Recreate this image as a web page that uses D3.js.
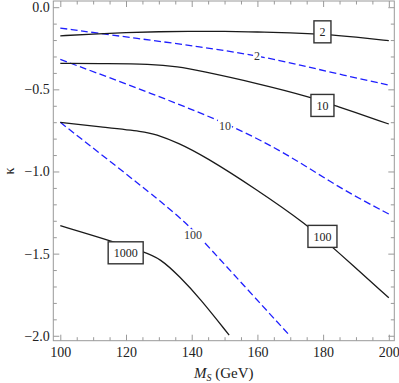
<!DOCTYPE html>
<html>
<head>
<meta charset="utf-8">
<script src="https://cdn.jsdelivr.net/npm/d3@7"></script>
<style>
  body { margin: 0; background: #fff; }
  svg { display: block; }
  svg text { font-family: "Liberation Serif", "Times New Roman", "DejaVu Serif", serif; }
</style>
</head>
<body>
<div id="chart"></div>
<script>
// tick labels
const xTicks = [100, 120, 140, 160, 180, 200];
const yTicks = [0, -0.5, -1, -1.5, -2];

// solid contours
const solid2 = [[100,-0.174],[110,-0.163],[120,-0.155],[130,-0.149],[140,-0.146],[150,-0.147],[160,-0.151],[170,-0.155],[180,-0.164],[190,-0.182],[200,-0.204]];
const solid10 = [[100,-0.342],[115,-0.343],[127,-0.346],[136,-0.362],[142.5,-0.387],[160,-0.463],[176.5,-0.549],[183,-0.595],[200,-0.711]];
const solid100 = [[100,-0.701],[112,-0.728],[125.8,-0.758],[128.8,-0.772],[135.9,-0.825],[144.1,-0.910],[159.3,-1.103],[175.3,-1.326],[183.6,-1.474],[200,-1.769]];
const solid1000 = [[100,-1.330],[114.6,-1.417],[125.3,-1.489],[130.4,-1.529],[136.4,-1.641],[142.5,-1.772],[151.4,-1.996]];

// dashed contours
const dashed2 = [[100,-0.127],[121,-0.184],[142.5,-0.240],[160,-0.295],[173,-0.352],[186,-0.413],[200,-0.474]];
const dashed10 = [[100,-0.318],[120,-0.466],[142.5,-0.640],[159.3,-0.788],[173,-0.944],[186.1,-1.113],[200,-1.259]];
const dashed100 = [[100,-0.701],[126.3,-1.113],[133.4,-1.230],[139.5,-1.336],[145,-1.456],[169.7,-1.996]];

// contour labels
const solidLabels = [["2", 179.8, -0.150], ["10", 179.8, -0.598], ["100", 179.8, -1.395], ["1000", 119.9, -1.495]];
const dashedLabels = [["2", 159.9, -0.297], ["10", 150.1, -0.721], ["100", 140.4, -1.387]];

const W = 399, H = 383;
const fLeft = 53.3, fRight = 394.3, fTop = 1, fBottom = 340.7;

const x = d3.scaleLinear().domain([97.87, 201.67]).range([fLeft, fRight]);
const y = d3.scaleLinear().domain([-2.030, 0.0377]).range([fBottom, fTop]);

const svg = d3.select("#chart").append("svg")
  .attr("width", W)
  .attr("height", H);

const xMinor = d3.range(100, 201, 5).filter(d => d % 20 !== 0);
const yMinor = d3.range(-20, 1, 1).map(d => d / 10).filter(d => Math.round(d * 10) % 5 !== 0);

const tickCol = "#999";

function drawAxis(axisFn, scale, ticks, minor, transform, labels, pad) {
  const g = svg.append("g").attr("transform", transform);
  g.call(axisFn(scale).tickValues(ticks).tickSizeInner(-6).tickSizeOuter(0).tickPadding(pad)
    .tickFormat(labels ? labels : () => ""));
  g.attr("font-family", null);
  g.select(".domain").remove();
  g.selectAll("line").attr("stroke", tickCol);
  g.selectAll("text").attr("fill", "#222").style("font-size", "14px");
  const m = svg.append("g").attr("transform", transform);
  m.call(axisFn(scale).tickValues(minor).tickSizeInner(-3.5).tickSizeOuter(0).tickFormat(() => ""));
  m.select(".domain").remove();
  m.selectAll("line").attr("stroke", tickCol);
}

drawAxis(d3.axisBottom, x, xTicks, xMinor, `translate(0,${fBottom})`, d3.format("d"), 6);
drawAxis(d3.axisTop, x, xTicks, xMinor, `translate(0,${fTop})`, null, 3);
drawAxis(d3.axisLeft, y, yTicks, yMinor, `translate(${fLeft},0)`, d3.format(".1f"), 3.5);
drawAxis(d3.axisRight, y, yTicks, yMinor, `translate(${fRight},0)`, null, 3);

svg.append("rect")
  .attr("x", fLeft).attr("y", fTop)
  .attr("width", fRight - fLeft).attr("height", fBottom - fTop)
  .attr("fill", "none")
  .attr("stroke", tickCol)
  .attr("stroke-width", 1);

const line = d3.line()
  .x(d => x(d[0]))
  .y(d => y(d[1]))
  .curve(d3.curveBasis);

[dashed2, dashed10, dashed100].forEach(c => {
  svg.append("path")
    .attr("d", line(c))
    .attr("fill", "none")
    .attr("stroke", "#1f1fff")
    .attr("stroke-width", 1.3)
    .attr("stroke-dasharray", "7,3.5");
});

[solid2, solid10, solid100, solid1000].forEach(c => {
  svg.append("path")
    .attr("d", line(c))
    .attr("fill", "none")
    .attr("stroke", "#1a1a1a")
    .attr("stroke-width", 1.3);
});

// dashed labels: text on a white patch
dashedLabels.forEach(l => {
  const g = svg.append("g");
  const t = g.append("text")
    .attr("x", x(l[1])).attr("y", y(l[2]))
    .attr("dy", "0.35em")
    .attr("text-anchor", "middle")
    .attr("fill", "#333")
    .style("font-size", "12px")
    .text(l[0]);
  const b = t.node().getBBox();
  g.insert("rect", "text")
    .attr("x", b.x - 1).attr("y", b.y + 1)
    .attr("width", b.width + 2).attr("height", b.height - 2)
    .attr("fill", "#fff");
});

// solid labels: boxed
solidLabels.forEach(l => {
  const g = svg.append("g");
  const t = g.append("text")
    .attr("x", x(l[1])).attr("y", y(l[2]))
    .attr("dy", "0.35em")
    .attr("text-anchor", "middle")
    .attr("fill", "#222")
    .style("font-size", "12px")
    .text(l[0]);
  const b = t.node().getBBox();
  const bw = b.width + 11, bh = 22;
  g.insert("rect", "text")
    .attr("x", x(l[1]) - bw / 2).attr("y", y(l[2]) - bh / 2)
    .attr("width", bw).attr("height", bh)
    .attr("fill", "#fff")
    .attr("stroke", "#333")
    .attr("stroke-width", 1.4);
});

// axis titles
const xt = svg.append("text")
  .attr("x", (fLeft + fRight) / 2)
  .attr("y", 378)
  .attr("text-anchor", "middle")
  .attr("fill", "#222")
  .style("font-size", "15px");
xt.append("tspan").style("font-style", "italic").text("M");
xt.append("tspan").style("font-style", "italic").style("font-size", "10px").attr("dy", 3).text("S");
xt.append("tspan").attr("dy", -3).text(" (GeV)");

svg.append("text")
  .attr("transform", `translate(14,${(fTop + fBottom) / 2}) rotate(-90)`)
  .attr("text-anchor", "middle")
  .attr("fill", "#222")
  .style("font-size", "14px")
  .text("κ");
</script>
</body>
</html>
